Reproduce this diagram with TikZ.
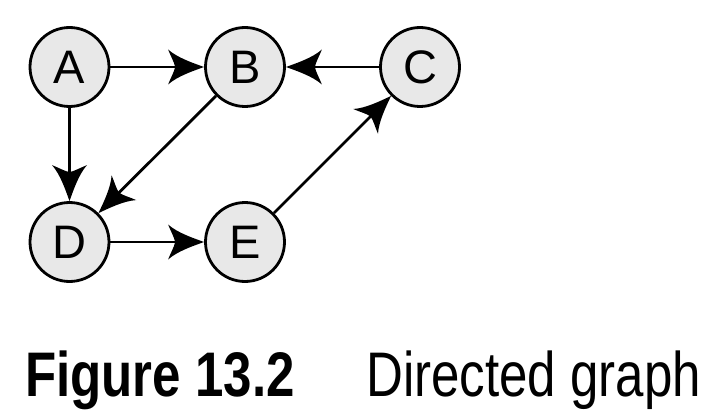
\documentclass[tikz,border=0pt]{standalone}
\usepackage{fontspec}
\setmainfont{Liberation Sans}
\newfontfamily\capfont[FakeStretch=0.81]{Liberation Sans}
\usetikzlibrary{arrows.meta}
\pgfdeclarearrow{
  name = Curvy,
  setup code = {
    \pgfarrowssettipend{0pt}
    \pgfarrowssetbackend{-36pt}
    \pgfarrowssetlineend{-26pt}
    \pgfarrowsupperhullpoint{-36pt}{17.5pt}
  },
  drawing code = {
    \pgfpathmoveto{\pgfpoint{0pt}{0pt}}
    \pgfpathcurveto{\pgfpoint{-11pt}{3.9pt}}{\pgfpoint{-27pt}{9.4pt}}{\pgfpoint{-36pt}{17.5pt}}
    \pgfpathcurveto{\pgfpoint{-33.5pt}{11pt}}{\pgfpoint{-29.8pt}{4.8pt}}{\pgfpoint{-29pt}{0pt}}
    \pgfpathcurveto{\pgfpoint{-29.8pt}{-4.8pt}}{\pgfpoint{-33.5pt}{-11pt}}{\pgfpoint{-36pt}{-17.5pt}}
    \pgfpathcurveto{\pgfpoint{-27pt}{-9.4pt}}{\pgfpoint{-11pt}{-3.9pt}}{\pgfpoint{0pt}{0pt}}
    \pgfpathclose
    \pgfusepathqfill
  }
}
\begin{document}
\begin{tikzpicture}[x=1pt,y=1pt,
  vert/.style={circle, draw=black, line width=2.8pt, fill=black!9,
    minimum size=79pt, inner sep=0pt,
    font=\fontsize{47}{47}\selectfont},
  edge/.style={line width=2.8pt, -{Curvy}}]
\useasboundingbox (0,0) rectangle (719,-414);
\node[vert] (A) at (69.5,-67) {A};
\node[vert] (B) at (245,-67) {B};
\node[vert] (C) at (420,-67) {C};
\node[vert] (D) at (69.5,-242) {D};
\node[vert] (E) at (245,-242) {E};
\draw[edge] (A) -- (B);
\draw[edge] (C) -- (B);
\draw[edge] (A) -- (D);
\draw[edge] (B) -- (D);
\draw[edge] (D) -- (E);
\draw[edge] (E) -- (C);
\node[anchor=base west, inner sep=0pt, font=\capfont\bfseries\fontsize{63}{64}\selectfont] (fig) at (25,-396) {Figure 13.2};
\node[anchor=base west, inner sep=0pt, font=\capfont\fontsize{63}{64}\selectfont] (cap) at (366,-396) {Directed graph};
\end{tikzpicture}
\end{document}
